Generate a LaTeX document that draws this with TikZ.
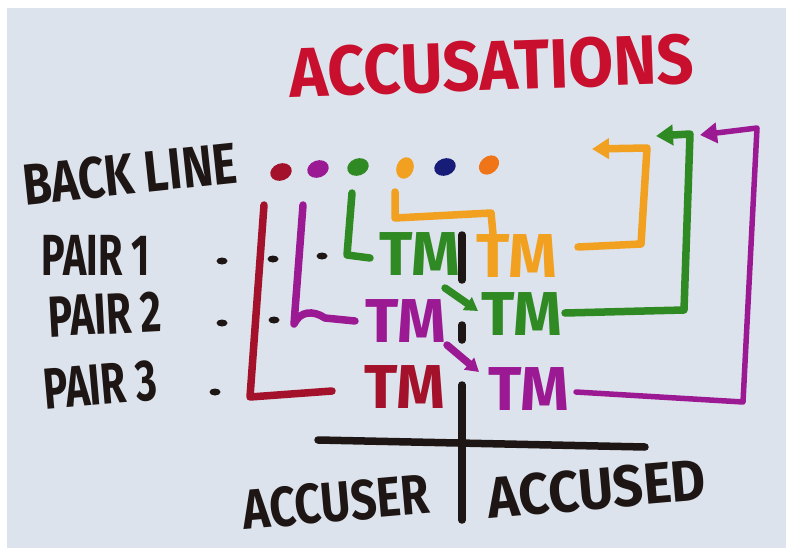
\documentclass[tikz,border=0pt]{standalone}
\usepackage{fontspec}
\setmainfont{Fira Sans}
\usetikzlibrary{arrows.meta, shapes.geometric}

\definecolor{paper}{HTML}{DCE3EC}
\definecolor{ink}{HTML}{1E1614}
\definecolor{titlered}{HTML}{C8102E}
\definecolor{redpen}{HTML}{A3122A}
\definecolor{purplepen}{HTML}{9B1A93}
\definecolor{greenpen}{HTML}{2F8A24}
\definecolor{orangepen}{HTML}{F2A020}
\definecolor{navypen}{HTML}{161C78}
\definecolor{amberpen}{HTML}{F07418}

\newcommand{\narrow}[2]{\scalebox{#1}[1]{#2}}

\tikzset{
  pen/.style={line width=7.5pt, line cap=round, line join=round},
  thinpen/.style={line width=5.5pt, line cap=round, line join=round},
  scrawl/.style={font=\fontsize{58}{58}\selectfont\bfseries, inner sep=0pt, text=ink},
  tmlabel/.style={font=\fontsize{62}{62}\selectfont\bfseries, inner sep=0pt},
  spot/.style={ellipse, minimum width=22pt, minimum height=17pt, inner sep=0pt, rotate=20},
  tick/.style={ellipse, fill=ink, minimum width=11pt, minimum height=7pt, inner sep=0pt},
  blob/.style={-{Triangle[length=17pt,width=20pt]}},
  smallblob/.style={-{Triangle[length=13pt,width=15pt]}}
}

\begin{document}
\begin{tikzpicture}[x=1pt, y=-1pt]
    \useasboundingbox (0,0) rectangle (786,548);
    \fill[white] (0,0) rectangle (786,548);
    \fill[paper] (7,8) rectangle (786,548);

    % headings
    \node[scrawl, text=titlered, font=\fontsize{70}{70}\selectfont\bfseries, rotate=2] (title) at (492,66) {\narrow{0.93}{ACCUSATIONS}};
    \node[scrawl, rotate=6] (backline) at (130,174) {\narrow{0.8}{BACK LINE}};
    \node[scrawl] (pair1) at (96,255) {\narrow{0.68}{PAIR 1}};
    \node[scrawl, rotate=3] (pair2) at (105,314) {\narrow{0.7}{PAIR 2}};
    \node[scrawl, rotate=5] (pair3) at (100,385) {\narrow{0.7}{PAIR 3}};
    \node[scrawl, font=\fontsize{56}{56}\selectfont\bfseries, rotate=5] (accuser) at (336,502) {\narrow{0.82}{ACCUSER}};
    \node[scrawl, rotate=5] (accused) at (597,489) {\narrow{0.92}{ACCUSED}};

    % back line spots
    \node[spot, fill=redpen] (dotA) at (281,172) {};
    \node[spot, fill=purplepen] (dotB) at (318,169) {};
    \node[spot, fill=greenpen] (dotC) at (358,167) {};
    \node[spot, fill=orangepen, rotate=50] (dotD) at (405,168) {};
    \node[spot, fill=navypen] (dotE) at (445,167) {};
    \node[spot, fill=amberpen, rotate=20] (dotF) at (489,165) {};

    % empty places
    \node[tick] (p1a) at (222,261) {};
    \node[tick] (p1b) at (273,259) {};
    \node[tick] (p1c) at (322,256) {};
    \node[tick] (p2a) at (222,323) {};
    \node[tick] (p2b) at (274,320) {};
    \node[tick] (p3a) at (215,392) {};

    % players
    \node[tmlabel, text=greenpen] (tmA) at (420,254) {TM};
    \node[tmlabel, text=orangepen] (tmAo) at (517,256) {TM};
    \node[tmlabel, text=purplepen] (tmB) at (406,321) {TM};
    \node[tmlabel, text=greenpen] (tmBo) at (522,314) {TM};
    \node[tmlabel, text=redpen] (tmC) at (405,387) {TM};
    \node[tmlabel, text=purplepen] (tmCo) at (529,389) {TM};

    % moves down from the back line
    \coordinate (redTop) at (264,205);
    \coordinate (redBend) at (250,397);
    \coordinate (redEnd) at (332,391);
    \coordinate (purTop) at (303,205);
    \coordinate (purBend) at (294,324);
    \coordinate (purEnd) at (355,321);
    \coordinate (grnTop) at (352,193);
    \coordinate (grnBend) at (347,255);
    \coordinate (grnEnd) at (370,258);
    \coordinate (orgTop) at (395,192);
    \coordinate (orgBend) at (395,218);
    \coordinate (orgTurn) at (491,213);
    \coordinate (orgEnd) at (493,234);

    \draw[pen, redpen] (redTop) -- (redBend) -- (redEnd);
    \draw[pen, purplepen] (purTop) -- (purBend)
        .. controls (300,311) and (313,310) .. (325,318) -- (purEnd);
    \draw[pen, greenpen] (grnTop) -- (grnBend) -- (grnEnd);
    \draw[pen, orangepen] (orgTop) -- (orgBend) -- (orgTurn) -- (orgEnd);

    % swaps across the divider
    \coordinate (grnArrS) at (445,288);
    \coordinate (grnArrE) at (478,311);
    \coordinate (purArrS) at (447,345);
    \coordinate (purArrE) at (479,372);
    \draw[pen, greenpen, smallblob] (grnArrS) -- (grnArrE);
    \draw[pen, purplepen, smallblob] (purArrS) -- (purArrE);

    % back to the back line
    \coordinate (orgS) at (578,247);
    \coordinate (orgC1) at (641,244);
    \coordinate (orgC2) at (647,148);
    \coordinate (orgTip) at (592,149);
    \coordinate (grnS) at (565,313);
    \coordinate (grnC1) at (684,310);
    \coordinate (grnC2) at (690,134);
    \coordinate (grnTip) at (656,136);
    \coordinate (purS) at (576,392);
    \coordinate (purC1) at (743,402);
    \coordinate (purC2) at (757,128);
    \coordinate (purTip) at (700,135);

    \draw[pen, orangepen, blob] (orgS) -- (orgC1) -- (orgC2) -- (orgTip);
    \draw[pen, greenpen, blob] (grnS) -- (grnC1) -- (grnC2) -- (grnTip);
    \draw[thinpen, purplepen, blob] (purS) -- (purC1) -- (purC2) -- (purTip);

    % divider
    \draw[pen, ink] (462,235) -- (462,280);
    \draw[pen, ink] (462,325) -- (462,340);
    \draw[pen, ink] (462,385) -- (462,520);
    \draw[pen, ink] (318,440) -- (645,447);
\end{tikzpicture}
\end{document}
